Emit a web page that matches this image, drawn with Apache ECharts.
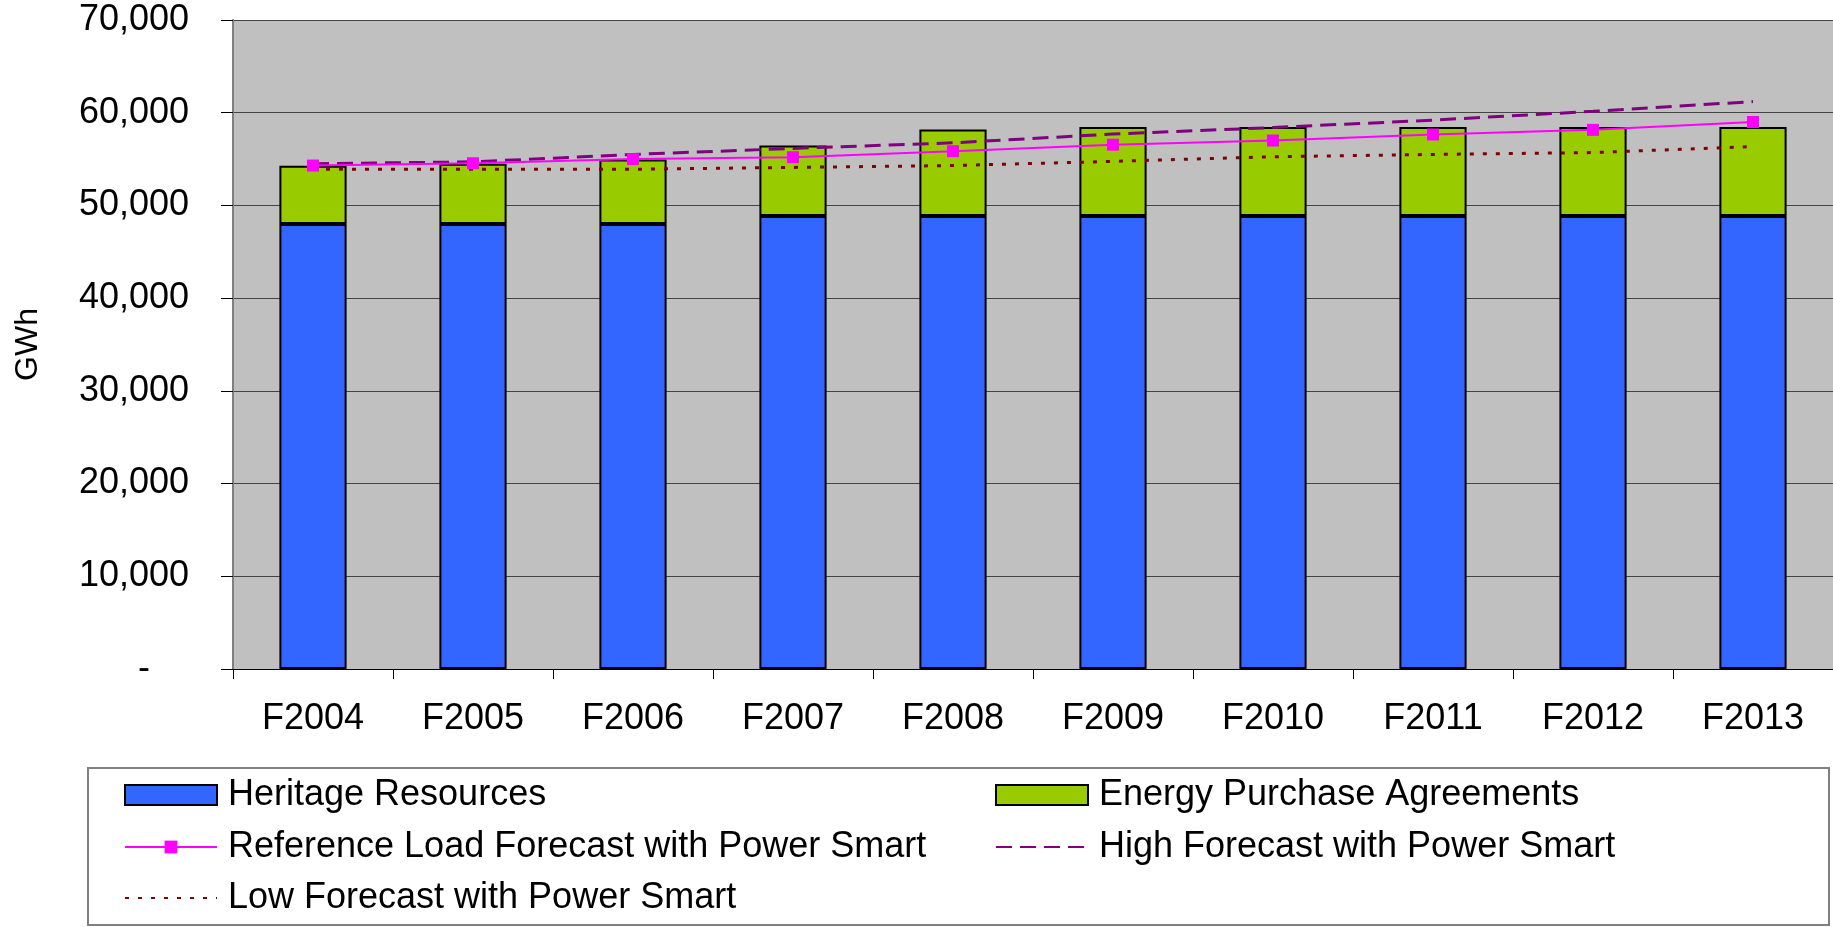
<!DOCTYPE html>
<html>
<head>
<meta charset="utf-8">
<script src="https://cdn.jsdelivr.net/npm/echarts@6/dist/echarts.min.js"></script>
<style>
html,body{margin:0;padding:0;background:#fff;}
#chart{width:1833px;height:927px;}
</style>
</head>
<body>
<div id="chart"></div>
<script>
const categories = ['F2004','F2005','F2006','F2007','F2008','F2009','F2010','F2011','F2012','F2013'];
const heritage = [48000, 48000, 48000, 48850, 48850, 48850, 48850, 48850, 48850, 48850];
const epa = [6270, 6500, 6950, 7620, 9350, 9600, 9600, 9600, 9600, 9600];
const reference = [54300, 54550, 55000, 55200, 55850, 56550, 57000, 57650, 58150, 59000];
const high = [54500, 54700, 55500, 56150, 56750, 57700, 58400, 59200, 60150, 61200];
const low = [53900, 53900, 53900, 54100, 54300, 54750, 55250, 55500, 55700, 56350];
const yTicks = {min: 0, max: 70000, interval: 10000};
const names = ['Heritage Resources','Energy Purchase Agreements','Reference Load Forecast with Power Smart','High Forecast with Power Smart','Low Forecast with Power Smart'];

const FONT = "'Liberation Sans', Arial, sans-serif";
const FS = 36;
const chart = echarts.init(document.getElementById('chart'), null, {renderer: 'canvas'});

function leg(name, left, top, h, icon, hideSymbol) {
  const item = {name: name};
  if (icon) item.icon = icon;
  if (hideSymbol) item.itemStyle = {opacity: 0};
  return {
    data: [item],
    left: left, top: top, padding: 0,
    itemWidth: 92, itemHeight: h,
    selectedMode: false,
    textStyle: {fontFamily: FONT, fontSize: FS, color: '#000', padding: [0,0,0,6]}
  };
}

const option = {
  animation: false,
  backgroundColor: '#fff',
  textStyle: {fontFamily: FONT},
  grid: {left: 233, right: -4, top: 20, bottom: 258, show: true, backgroundColor: '#C0C0C0', borderWidth: 0},
  graphic: [{
    type: 'rect', z: -1,
    shape: {x: 88, y: 768, width: 1741, height: 157},
    style: {fill: '#fff', stroke: '#808080', lineWidth: 2}
  }],
  legend: [
    leg(names[0], 124, 777, 20, 'rect'),
    leg(names[1], 995, 777, 20, 'rect'),
    leg(names[2], 124, 829, 16),
    leg(names[3], 995, 829, 16, null, true),
    leg(names[4], 124, 880, 16, null, true)
  ],
  xAxis: {
    type: 'category', data: categories, boundaryGap: true,
    axisLine: {show: true, lineStyle: {color: '#000', width: 1}},
    axisTick: {show: true, length: 10, lineStyle: {color: '#000', width: 1}},
    axisLabel: {fontFamily: FONT, fontSize: FS, color: '#000', margin: 32},
    splitLine: {show: false}
  },
  yAxis: {
    type: 'value', min: yTicks.min, max: yTicks.max, interval: yTicks.interval,
    name: 'GWh', nameLocation: 'middle', nameRotate: 90, nameGap: 189,
    nameTextStyle: {fontFamily: FONT, fontSize: 32, color: '#000'},
    axisLine: {show: true, lineStyle: {color: '#808080', width: 2}},
    axisTick: {show: true, length: 12, lineStyle: {color: '#000', width: 1}},
    axisLabel: {
      fontFamily: FONT, fontSize: FS, color: '#000', margin: 44,
      formatter: function (v) { return v === 0 ? '{z|-}' : v.toLocaleString('en-US'); },
      rich: {z: {fontFamily: FONT, fontSize: FS, color: '#000', padding: [0, 39, 0, 0]}}
    },
    splitLine: {show: true, lineStyle: {color: '#444', width: 1}}
  },
  series: [
    {name: names[0], type: 'bar', stack: 'supply', data: heritage, barWidth: '42%',
     itemStyle: {color: '#3366FF', borderColor: '#000', borderWidth: 2}},
    {name: names[1], type: 'bar', stack: 'supply', data: epa, barWidth: '42%',
     itemStyle: {color: '#99CC00', borderColor: '#000', borderWidth: 2}},
    {name: names[4], type: 'line', data: low, symbol: 'none', z: 3,
     lineStyle: {color: '#800000', width: 3, type: [4, 9], cap: 'butt'}, itemStyle: {color: '#800000'}},
    {name: names[3], type: 'line', data: high, symbol: 'none', z: 4,
     lineStyle: {color: '#800080', width: 3, type: [16, 8], cap: 'butt'}, itemStyle: {color: '#800080'}},
    {name: names[2], type: 'line', data: reference, symbol: 'rect', symbolSize: 12, z: 5,
     lineStyle: {color: '#FF00FF', width: 2}, itemStyle: {color: '#FF00FF'}}
  ]
};
chart.setOption(option);
</script>
</body>
</html>
